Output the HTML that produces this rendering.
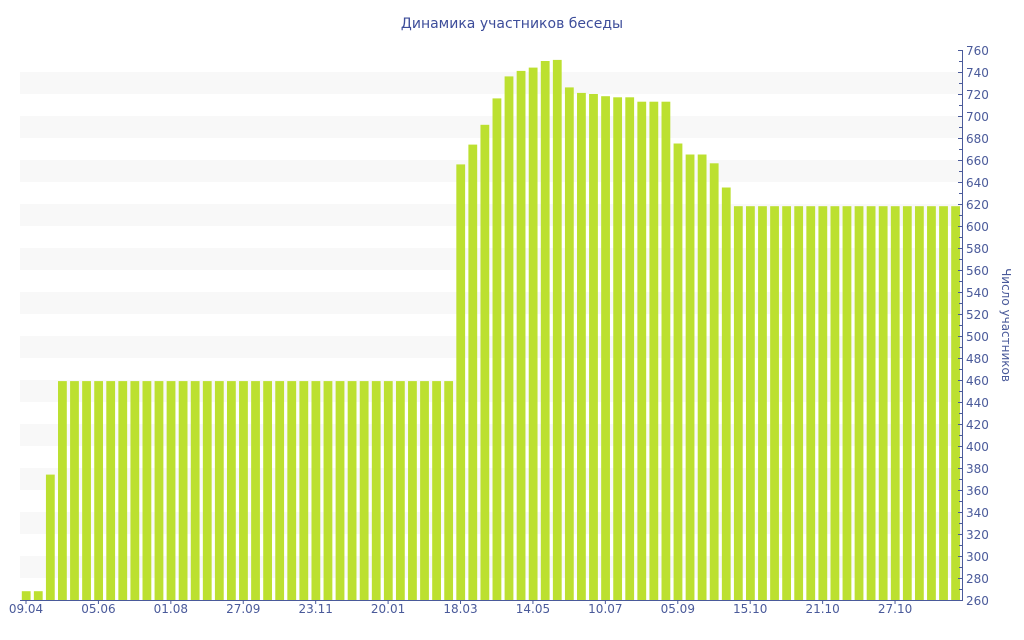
<!DOCTYPE html>
<html><head><meta charset="utf-8"><style>
html,body{margin:0;padding:0;background:#fff;}
svg{display:block;font-family:"DejaVu Sans","Liberation Sans",sans-serif;}
</style></head><body>
<svg id="s" width="1024" height="640" xmlns="http://www.w3.org/2000/svg">
<text x="512" y="28" text-anchor="middle" font-size="14" fill="#3d4d9a">Динамика участников беседы</text>
<g id="bands"></g>
<g id="bars"></g>
<g id="axes" stroke="#4a5a9a" stroke-width="1"></g>
<g id="lbl" font-size="12" fill="#4a5a9a"></g>
<text transform="translate(1002,325) rotate(90)" text-anchor="middle" font-size="12" fill="#4a5a9a">Число участников</text>
</svg>
<script>
var NS="http://www.w3.org/2000/svg";
function el(p,t,a,txt){var e=document.createElementNS(NS,t);for(var k in a)e.setAttribute(k,a[k]);if(txt)e.textContent=txt;document.getElementById(p).appendChild(e);return e;}
function Y(v){return 600-(v-260)*1.1;}
for(var v=280;v<760;v+=40){el("bands","rect",{x:20,y:Y(v+20),width:942,height:22,fill:"#f8f8f8"});}
var vals=[268,268,374];
for(var i=3;i<36;i++)vals.push(459);
vals=vals.concat([656,674,692,716,736,741,744,750,751,726,721,720,718,717,717,713,713,713,675,665,665,657,635]);
while(vals.length<78)vals.push(618);
var pitch=12.07;
for(var i=0;i<78;i++){var x=21.8+pitch*i;el("bars","rect",{x:x.toFixed(2),y:Y(vals[i]).toFixed(1),width:8.8,height:(600-Y(vals[i])).toFixed(1),fill:"#bce030"});}
el("axes","line",{x1:20,y1:600.5,x2:963,y2:600.5});
el("axes","line",{x1:962.5,y1:50,x2:962.5,y2:600});
for(var v=260;v<=760;v+=10){var y=Y(v)+0.5;el("axes","line",{x1:(v%20==0?958:959),y1:y,x2:963,y2:y});
 if(v%20==0)el("lbl","text",{x:966,y:y+4.5},String(v));}
var labs=["09.04","05.06","01.08","27.09","23.11","20.01","18.03","14.05","10.07","05.09","15.10","21.10","27.10"];
for(var j=0;j<labs.length;j++){var x=26+pitch*6*j;el("axes","line",{x1:x,y1:600,x2:x,y2:604});el("lbl","text",{x:x,y:613,"text-anchor":"middle"},labs[j]);}
</script>
</body></html>
